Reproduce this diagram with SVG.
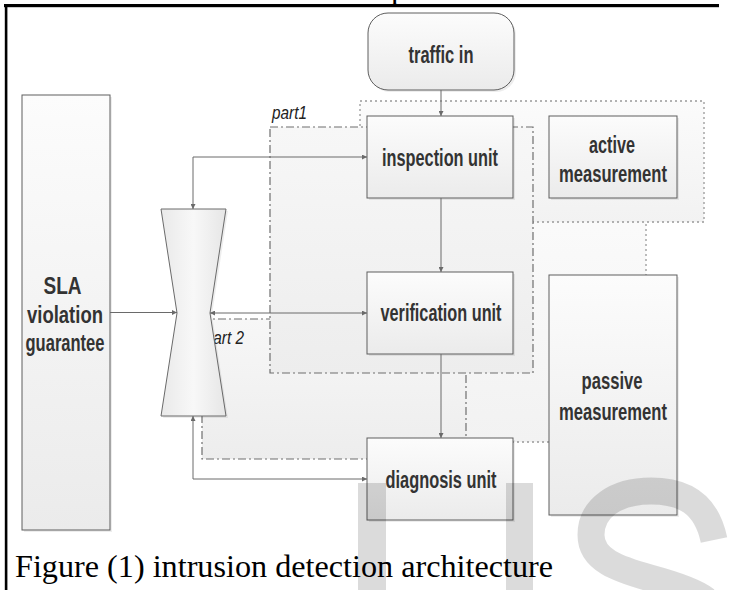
<svg xmlns="http://www.w3.org/2000/svg" width="730" height="590" viewBox="0 0 730 590">
  <style>
    .node { stroke: #5e5e5e; stroke-width: 1; fill: url(#nodeFill); }
    .shadow { fill: #000; opacity: 0.07; }
    .label { font-family: "Liberation Sans", Arial, sans-serif; font-weight: bold; font-size: 23px; fill: #333; text-anchor: middle; }
    .part { font-family: "Liberation Sans", Arial, sans-serif; font-style: italic; font-size: 19px; fill: #222; }
    .dashdot { stroke: #6e6e6e; stroke-width: 1.2; stroke-dasharray: 8 3 2 3; }
    .dotted { stroke: #999; stroke-width: 1.3; stroke-dasharray: 2 3; }
    .conn { fill: none; stroke: #6a6a6a; stroke-width: 1; }
    .mark { fill: #000; opacity: 0.14; }
  </style>
  <defs>
    <linearGradient id="nodeFill" x1="0" y1="0" x2="0" y2="1">
      <stop offset="0" stop-color="#fcfcfc"/>
      <stop offset="1" stop-color="#ebebeb"/>
    </linearGradient>
    <linearGradient id="glassFill" x1="0" y1="0" x2="1" y2="0">
      <stop offset="0" stop-color="#e9e9e9"/>
      <stop offset="0.5" stop-color="#f8f8f8"/>
      <stop offset="1" stop-color="#e6e6e6"/>
    </linearGradient>
    <linearGradient id="regionFill" x1="0" y1="0" x2="0" y2="1">
      <stop offset="0" stop-color="#f7f7f7"/>
      <stop offset="1" stop-color="#ededed"/>
    </linearGradient>
    <linearGradient id="regionLight" x1="0" y1="0" x2="0" y2="1">
      <stop offset="0" stop-color="#fbfbfb"/>
      <stop offset="1" stop-color="#f2f2f2"/>
    </linearGradient>
    <marker id="arrow" viewBox="0 0 6 6" refX="6" refY="3" markerWidth="5" markerHeight="5" orient="auto-start-reverse" markerUnits="userSpaceOnUse">
      <path d="M0,0 L6,3 L0,6 z" fill="#6a6a6a"/>
    </marker>
  </defs>

  <!-- page frame and clipped line of the text above -->
  <rect x="0" y="0" width="730" height="590" fill="#fff"/>
  <text x="391" y="-2" font-family="Liberation Serif, serif" font-size="32" fill="#000">p</text>
  <rect x="4" y="4" width="715" height="3.2" fill="#000"/>
  <rect x="4.8" y="4" width="2.6" height="586" fill="#000"/>

  <!-- grouping regions -->
  <g id="passive-region">
    <rect x="420" y="200" width="226" height="242" fill="url(#regionLight)" class="dotted"/>
  </g>
  <g id="active-region">
    <rect x="360" y="101" width="344" height="121" fill="url(#regionLight)" class="dotted"/>
  </g>
  <g id="part2">
    <rect x="202" y="319" width="264" height="140" fill="url(#regionFill)" class="dashdot"/>
    <text class="part" x="204.7" y="344" textLength="39.3" lengthAdjust="spacingAndGlyphs">part 2</text>
  </g>
  <g id="part1">
    <rect x="270" y="127" width="263" height="246" fill="url(#regionFill)" class="dashdot"/>
    <text class="part" x="272" y="119" textLength="35" lengthAdjust="spacingAndGlyphs">part1</text>
  </g>

  <!-- nodes -->
  <g id="traffic-in">
    <rect class="shadow" x="370" y="15" width="146" height="77" rx="20"/>
    <rect class="node" x="368" y="13" width="146" height="77" rx="20"/>
    <text class="label" x="441" y="63" textLength="65" lengthAdjust="spacingAndGlyphs">traffic in</text>
  </g>
  <g id="inspection-unit">
    <rect class="shadow" x="369" y="118" width="146" height="82"/>
    <rect class="node" x="367" y="116" width="146" height="82"/>
    <text class="label" x="440" y="166" textLength="116" lengthAdjust="spacingAndGlyphs">inspection unit</text>
  </g>
  <g id="verification-unit">
    <rect class="shadow" x="369" y="274" width="146" height="82"/>
    <rect class="node" x="367" y="272" width="146" height="82"/>
    <text class="label" x="441" y="321" textLength="121" lengthAdjust="spacingAndGlyphs">verification unit</text>
  </g>
  <g id="diagnosis-unit">
    <rect class="shadow" x="369" y="440" width="146" height="82"/>
    <rect class="node" x="367" y="438" width="146" height="82"/>
    <text class="label" x="441" y="488" textLength="111" lengthAdjust="spacingAndGlyphs">diagnosis unit</text>
  </g>
  <g id="active-measurement">
    <rect class="shadow" x="551" y="118" width="128" height="82"/>
    <rect class="node" x="549" y="116" width="128" height="82"/>
    <text class="label" x="612" y="153" textLength="46" lengthAdjust="spacingAndGlyphs">active</text>
    <text class="label" x="613" y="182" textLength="108" lengthAdjust="spacingAndGlyphs">measurement</text>
  </g>
  <g id="passive-measurement">
    <rect class="shadow" x="551" y="277" width="128" height="240"/>
    <rect class="node" x="549" y="275" width="128" height="240"/>
    <text class="label" x="612" y="389" textLength="61" lengthAdjust="spacingAndGlyphs">passive</text>
    <text class="label" x="613" y="420" textLength="108" lengthAdjust="spacingAndGlyphs">measurement</text>
  </g>
  <g id="sla-violation-guarantee">
    <rect class="shadow" x="24" y="97" width="88" height="435"/>
    <rect class="node" x="22" y="95" width="88" height="435"/>
    <text class="label" x="62.5" y="294" textLength="38" lengthAdjust="spacingAndGlyphs">SLA</text>
    <text class="label" x="65" y="323" textLength="76" lengthAdjust="spacingAndGlyphs">violation</text>
    <text class="label" x="65" y="351" textLength="79" lengthAdjust="spacingAndGlyphs">guarantee</text>
  </g>
  <g id="hourglass">
    <polygon points="163,211 228,211 212,315 228,418 163,418 179,315" class="shadow"/>
    <polygon points="161,209 226,209 210,313 226,416 161,416 177,313" fill="url(#glassFill)" stroke="#6a6a6a" stroke-width="1"/>
  </g>

  <!-- connectors -->
  <g id="connectors">
    <line class="conn" x1="441" y1="90" x2="441" y2="116" marker-end="url(#arrow)"/>
    <line class="conn" x1="441" y1="198" x2="441" y2="272" marker-end="url(#arrow)"/>
    <line class="conn" x1="441" y1="354" x2="441" y2="438" marker-end="url(#arrow)"/>
    <path class="conn" d="M367,157 H193 V209" marker-start="url(#arrow)" marker-end="url(#arrow)"/>
    <line class="conn" x1="110" y1="312.5" x2="177" y2="312.5" marker-end="url(#arrow)"/>
    <line class="conn" x1="367" y1="313" x2="210" y2="313" marker-start="url(#arrow)" marker-end="url(#arrow)"/>
    <path class="conn" d="M367,479 H193 V416" marker-start="url(#arrow)" marker-end="url(#arrow)"/>
  </g>

  <!-- caption -->
  <text x="15" y="577" font-family="Liberation Serif, 'Times New Roman', serif" font-size="32.2" fill="#000">Figure (1) intrusion detection architecture</text>

  <!-- watermark letters along the bottom edge -->
  <g id="watermark">
    <rect class="mark" x="358" y="483" width="28" height="107"/>
    <rect class="mark" x="506" y="483" width="27" height="107"/>
    <path d="M714,540 C706,502 682,491 651,491 C616,491 591,508 591,535 C591,560 618,569 650,578 C676,585 696,592 706,600" fill="none" stroke="#000" stroke-opacity="0.14" stroke-width="27"/>
  </g>
</svg>
